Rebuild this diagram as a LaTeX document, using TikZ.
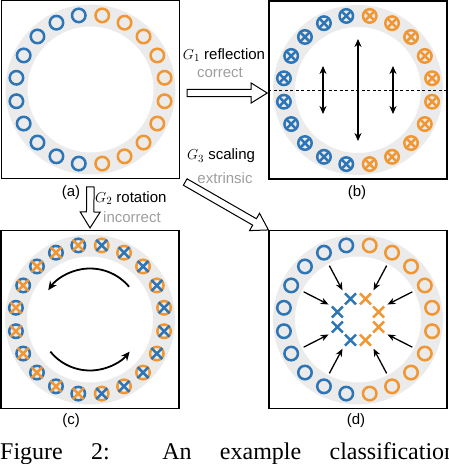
\documentclass[tikz,border=0pt]{standalone}
\usepackage{fontspec}
\setmainfont{Liberation Serif}
\setsansfont{Liberation Sans}
\usetikzlibrary{arrows.meta,calc,shapes.arrows}
\definecolor{cblue}{RGB}{46,117,182}
\definecolor{corange}{RGB}{240,150,50}
\definecolor{ringgray}{RGB}{235,235,235}
\definecolor{txtgray}{RGB}{158,158,158}
\tikzset{
	panel/.style={draw, line width=1.1pt, minimum size=178pt, inner sep=0pt},
	lab/.style={font=\sffamily\fontsize{15}{17}\selectfont, inner sep=1pt},
	sub/.style={lab, text=txtgray},
	circ/.style={line width=2.5pt},
	hollow/.style={single arrow, draw, line width=1pt, fill=white, inner xsep=0pt, inner ysep=3.2pt, text height=0pt, text depth=0pt, single arrow head extend=6.3pt, single arrow tip angle=64, allow upside down},
	dbl/.style={line width=1.8pt, {Stealth[length=8pt,width=7pt]}-{Stealth[length=8pt,width=7pt]}},
	inarrow/.style={line width=1.3pt, -{Stealth[length=8pt,width=6.5pt]}},
	turn/.style={line width=1.8pt, -{Stealth[length=9pt,width=8pt]}},
	cross/.pic={\draw[line width=2.5pt] (-5.5,-5.5) -- (5.5,5.5) (-5.5,5.5) -- (5.5,-5.5);}
}
\begin{document}
\begin{tikzpicture}[x=1pt,y=1pt]
		\useasboundingbox (0,0) rectangle (448,-464);
		\clip (0,0) rectangle (448,-464);
		\node[panel] (A) at (90.5,-89.5) {};
		\node[panel] (B) at (358,-90) {};
		\node[panel] (C) at (90,-319.5) {};
		\node[panel] (D) at (358,-319.5) {};
		\foreach \p in {A,B,C,D}
			\fill[ringgray, even odd rule] (\p) circle (85pt) circle (63pt);
		\foreach \k in {0,...,9}{
			\draw[circ, cblue] ($(A)+({99+18*\k}:75)$) circle (6.75pt);
			\draw[circ, corange] ($(A)+({18*\k-81}:75)$) circle (6.75pt);
			\draw[circ, cblue] ($(B)+({99+18*\k}:75)$) circle (6.75pt);
			\draw[circ, corange] ($(B)+({18*\k-81}:75)$) circle (6.75pt);
			\pic[cblue, scale=0.8] at ($(B)+({99+18*\k}:75)$) {cross};
			\pic[corange, scale=0.8] at ($(B)+({18*\k-81}:75)$) {cross};
			\draw[circ, cblue] ($(C)+({99+18*\k}:75)$) circle (6.75pt);
			\draw[circ, corange] ($(C)+({18*\k-81}:75)$) circle (6.75pt);
			\pic[corange] at ($(C)+({99+18*\k}:75)$) {cross};
			\pic[cblue] at ($(C)+({18*\k-81}:75)$) {cross};
			\draw[circ, cblue] ($(D)+({99+18*\k}:75)$) circle (6.75pt);
			\draw[circ, corange] ($(D)+({18*\k-81}:75)$) circle (6.75pt);
		}
		\draw[dashed, line width=0.8pt, dash pattern=on 3pt off 2.5pt] (B.west) -- (B.east);
		\draw[dbl] ($(B)+(0,51)$) -- ($(B)+(0,-51)$);
		\foreach \x in {-35,35}
			\draw[dbl] ($(B)+(\x,24)$) -- ($(B)+(\x,-24)$);
		\draw[turn] ($(C)+(40:51)$) arc[start angle=40, end angle=145, radius=51pt];
		\draw[turn] ($(C)+(219:51)$) arc[start angle=219, end angle=321, radius=51pt];
		\foreach \a/\c in {20/corange,70/corange,110/cblue,160/cblue,200/cblue,250/cblue,290/corange,340/corange}
			\pic[\c] at ($(D)+(\a:22)$) {cross};
		\foreach \a in {27,62,118,153,207,242,298,333}
			\draw[inarrow] ($(D)+(\a:61)$) -- ($(D)+(\a:33)$);
		\path ($(A.east)+(0,-3.5)$) -- ($(B.west)+(0,-3)$) node[hollow, midway, minimum height=80pt] (g1) {};
		\path (A.south) -- (C.north) node[hollow, midway, sloped, minimum height=41pt] (g2) {};
		\path (A.south east) -- (D.north west) node[hollow, midway, sloped, minimum height=96pt] (g3) {};
		\node[lab] at (224,-55) {$G_1$ reflection};
		\node[sub] at (220,-73) {correct};
		\node[lab, anchor=west] at (94,-198) {$G_2$ rotation};
		\node[sub, anchor=west] at (102,-217) {incorrect};
		\node[lab] at (221,-156) {$G_3$ scaling};
		\node[sub] at (225,-178) {extrinsic};
		\node[lab] at (71,-193) {(a)};
		\node[lab] at (357,-193) {(b)};
		\node[lab] at (71,-421) {(c)};
		\node[lab] at (356,-421) {(d)};
		\node[anchor=base west, inner sep=0pt, font=\rmfamily\fontsize{24}{26}\selectfont] (cap) at (0,-459) {\makebox[456pt][s]{Figure 2: An example classification}};
	\end{tikzpicture}
\end{document}
